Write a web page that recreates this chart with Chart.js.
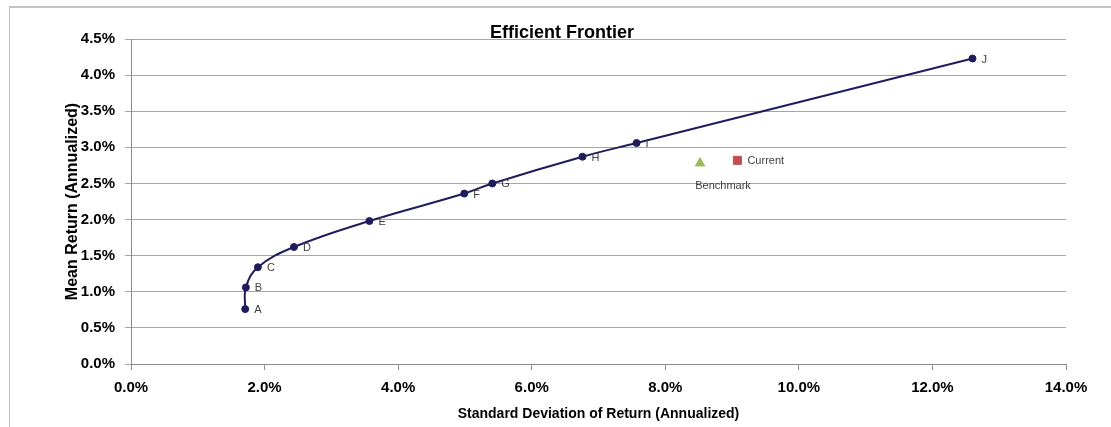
<!DOCTYPE html>
<html>
<head>
<meta charset="utf-8">
<script src="https://cdn.jsdelivr.net/npm/chart.js@4.4.0/dist/chart.umd.min.js"></script>
<style>
    body { margin: 0; background: #fff; width: 1111px; height: 427px; overflow: hidden; position: relative; }
    #moldura { position: absolute; left: 9px; top: 6px; width: 1200px; height: 500px; border-left: 1px solid #c4c4c4; border-top: 2px solid #c4c4c4; }
    #caixa { position: absolute; left: 0; top: 0; width: 1111px; height: 427px; }
</style>
</head>
<body>
<div id="moldura"></div>
<div id="caixa"><canvas id="myChart"></canvas></div>
<script>
/* ========== Dados =============== */

const pontosNomes = ['A', 'B', 'C', 'D', 'E', 'F', 'G', 'H', 'I', 'J'];
const desvioPadrao = [1.71, 1.72, 1.90, 2.44, 3.57, 4.99, 5.41, 6.76, 7.57, 12.60];
const retornoMedio = [0.76, 1.06, 1.34, 1.62, 1.98, 2.36, 2.50, 2.87, 3.06, 4.23];

const benchmarkPonto = [8.52, 2.78];
const currentPonto = [9.08, 2.82];

const yTicks = [0, 0.5, 1, 1.5, 2, 2.5, 3, 3.5, 4, 4.5];
const xTicks = [0, 2, 4, 6, 8, 10, 12, 14];

/* ========== Grafico =============== */

const fonte = "'Liberation Sans', Arial, sans-serif";

const frontier = desvioPadrao.map(function (x, i) {
    return { x: x, y: retornoMedio[i] };
});

// rotulos A..J, Benchmark e Current
const rotulosPlugin = {
    id: 'rotulos',
    afterDatasetsDraw(chart) {
        const ctx = chart.ctx;
        ctx.save();
        ctx.font = "11px " + fonte;
        ctx.fillStyle = '#404040';
        ctx.textBaseline = 'middle';
        ctx.textAlign = 'left';
        const meta = chart.getDatasetMeta(0);
        meta.data.forEach(function (p, i) {
            ctx.fillText(pontosNomes[i], p.x + 9, p.y + 1);
        });
        const bm = chart.getDatasetMeta(1).data[0];
        ctx.textAlign = 'center';
        ctx.fillText('Benchmark', bm.x + 23, bm.y + 23);
        const cur = chart.getDatasetMeta(2).data[0];
        ctx.textAlign = 'left';
        ctx.fillText('Current', cur.x + 10, cur.y + 1);

        // titulo
        ctx.font = "bold 18px " + fonte;
        ctx.fillStyle = '#000';
        ctx.textAlign = 'center';
        ctx.textBaseline = 'alphabetic';
        ctx.fillText('Efficient Frontier', 562, 38);
        ctx.restore();
    }
};

new Chart(document.getElementById('myChart'), {
    type: 'scatter',
    data: {
        datasets: [{
            label: 'Frontier',
            data: frontier,
            showLine: true,
            borderColor: '#1f1c5c',
            backgroundColor: '#1f1c5c',
            borderWidth: 2,
            tension: 0.4,
            pointRadius: 3.5,
            pointBorderWidth: 1,
            pointHoverRadius: 3.5
        }, {
            label: 'Benchmark',
            data: [{ x: benchmarkPonto[0], y: benchmarkPonto[1] }],
            pointStyle: 'triangle',
            backgroundColor: '#9bbb59',
            borderColor: '#9bbb59',
            pointRadius: 5.5
        }, {
            label: 'Current',
            data: [{ x: currentPonto[0], y: currentPonto[1] }],
            pointStyle: 'rect',
            backgroundColor: '#c0504d',
            borderColor: '#c0504d',
            pointRadius: 5.7
        }]
    },
    options: {
        responsive: true,
        maintainAspectRatio: false,
        animation: false,
        layout: {
            padding: { top: 39, right: 45, bottom: 0, left: 63 }
        },
        plugins: {
            legend: { display: false },
            tooltip: { enabled: false }
        },
        scales: {
            x: {
                type: 'linear',
                min: xTicks[0],
                max: xTicks[xTicks.length - 1],
                afterFit: function (s) { s.height = 63; },
                afterBuildTicks: function (s) { s.ticks = xTicks.map(function (v) { return { value: v }; }); },
                grid: { drawOnChartArea: false, tickLength: 6, color: '#8c8c8c' },
                border: { color: '#8c8c8c' },
                ticks: {
                    padding: 9,
                    color: '#000',
                    font: { family: fonte, size: 15, weight: 'bold' },
                    callback: function (v) { return v.toFixed(1) + '%'; }
                },
                title: {
                    display: true,
                    text: 'Standard Deviation of Return (Annualized)',
                    color: '#000',
                    font: { family: fonte, size: 14, weight: 'bold' },
                    padding: { top: 0, bottom: 4 }
                }
            },
            y: {
                min: yTicks[0],
                max: yTicks[yTicks.length - 1],
                afterFit: function (s) { s.width = 131 - 63; },
                afterBuildTicks: function (s) { s.ticks = yTicks.map(function (v) { return { value: v }; }); },
                grid: { color: '#a6a6a6', tickLength: 6 },
                border: { color: '#8c8c8c' },
                ticks: {
                    padding: 10,
                    color: '#000',
                    font: { family: fonte, size: 15, weight: 'bold' },
                    callback: function (v) { return v.toFixed(1) + '%'; }
                },
                title: {
                    display: true,
                    text: 'Mean Return (Annualized)',
                    color: '#000',
                    font: { family: fonte, size: 16, weight: 'bold' },
                    padding: { top: 0, bottom: 0 }
                }
            }
        }
    },
    plugins: [rotulosPlugin]
});
</script>
</body>
</html>
